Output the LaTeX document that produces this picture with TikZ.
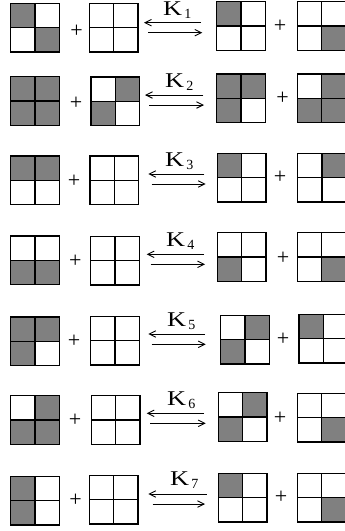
\documentclass[tikz,border=0pt]{standalone}
\usepackage{fontspec}
\setmainfont{Liberation Serif}
\usepackage{graphicx}
\usetikzlibrary{arrows.meta}
\definecolor{cellgray}{RGB}{128,128,128}
\tikzset{
  gridline/.style={draw=black, line width=1.2pt},
  plussign/.style={inner sep=0pt, font=\fontsize{22}{22}\selectfont},
  klabel/.style={anchor=base west, inner sep=0pt},
  eqarrow/.style={line width=0.9pt, -{Straight Barb[length=6.5pt,width=6.5pt,line width=0.9pt]}},
}
\newcommand\qgrid[6]{%
  \begin{scope}[shift={(#1,#2)}]
    \ifnum#3=1 \fill[cellgray] (0,0) rectangle (24.35,24.35);\fi
    \ifnum#4=1 \fill[cellgray] (24.35,0) rectangle (48.7,24.35);\fi
    \ifnum#5=1 \fill[cellgray] (0,24.35) rectangle (24.35,48.7);\fi
    \ifnum#6=1 \fill[cellgray] (24.35,24.35) rectangle (48.7,48.7);\fi
    \draw[gridline] (0,0) rectangle (48.7,48.7) (24.35,0) -- (24.35,48.7) (0,24.35) -- (48.7,24.35);
  \end{scope}}
\newcommand\klab[1]{{\fontsize{21}{21}\selectfont\scalebox{1.25}[1]{K}}\hspace{2.2pt}\raisebox{-3pt}{\fontsize{14}{14}\selectfont #1}}
\begin{document}
\begin{tikzpicture}[x=1pt,y=-1pt]
\useasboundingbox (0,0) rectangle (345,531);
\clip (0,0) rectangle (345,531);
% Row 1
\qgrid{10.7}{3.3}{1}{0}{0}{1}
\qgrid{89.3}{3.3}{0}{0}{0}{0}
\qgrid{216.7}{1.7}{1}{0}{0}{0}
\qgrid{297.3}{1.7}{0}{0}{0}{1}
\node[plussign] (p1a) at (76.7,31) {+};
\node[plussign] (p1b) at (280,26.7) {+};
\coordinate (u1s) at (201,22.7); \coordinate (u1e) at (144,22.7);
\coordinate (l1s) at (148,32.7); \coordinate (l1e) at (202.3,32.7);
\draw[eqarrow] (u1s) -- (u1e);
\draw[eqarrow] (l1s) -- (l1e);
\node[klabel] (k1) at (163,15) {\klab{1}};
% Row 2
\qgrid{10.7}{76.7}{1}{1}{1}{1}
\qgrid{91}{77}{0}{1}{1}{0}
\qgrid{216.7}{74}{1}{1}{1}{0}
\qgrid{297.3}{74}{0}{1}{1}{1}
\node[plussign] (p2a) at (76,103.3) {+};
\node[plussign] (p2b) at (282.7,98.3) {+};
\coordinate (u2s) at (203.3,95); \coordinate (u2e) at (145,95);
\coordinate (l2s) at (149.3,105); \coordinate (l2e) at (204,105);
\draw[eqarrow] (u2s) -- (u2e);
\draw[eqarrow] (l2s) -- (l2e);
\node[klabel] (k2) at (165,87) {\klab{2}};
% Row 3
\qgrid{10.7}{156}{1}{1}{0}{0}
\qgrid{90}{156}{0}{0}{0}{0}
\qgrid{217.3}{153.3}{1}{0}{0}{0}
\qgrid{297.7}{153.3}{0}{1}{0}{0}
\node[plussign] (p3a) at (74,181.7) {+};
\node[plussign] (p3b) at (280,177.7) {+};
\coordinate (u3s) at (204.3,174); \coordinate (u3e) at (148.3,174);
\coordinate (l3s) at (151.7,184); \coordinate (l3e) at (205.7,184);
\draw[eqarrow] (u3s) -- (u3e);
\draw[eqarrow] (l3s) -- (l3e);
\node[klabel] (k3) at (165,166) {\klab{3}};
% Row 4
\qgrid{10.7}{236}{0}{0}{1}{1}
\qgrid{90.7}{236.3}{0}{0}{0}{0}
\qgrid{217.3}{232.7}{0}{0}{1}{0}
\qgrid{297.3}{232.7}{0}{0}{0}{1}
\node[plussign] (p4a) at (75.3,261.7) {+};
\node[plussign] (p4b) at (283,258.3) {+};
\coordinate (u4s) at (204,254.3); \coordinate (u4e) at (146.7,254.3);
\coordinate (l4s) at (150.7,264.3); \coordinate (l4e) at (205,264.3);
\draw[eqarrow] (u4s) -- (u4e);
\draw[eqarrow] (l4s) -- (l4e);
\node[klabel] (k4) at (166,246.3) {\klab{4}};
% Row 5
\qgrid{10.7}{317}{1}{1}{1}{0}
\qgrid{90.7}{316.3}{0}{0}{0}{0}
\qgrid{220.7}{315.3}{0}{1}{1}{0}
\qgrid{299}{314.3}{1}{0}{0}{0}
\node[plussign] (p5a) at (74,341.7) {+};
\node[plussign] (p5b) at (283,339.7) {+};
\coordinate (u5s) at (205,334); \coordinate (u5e) at (148.3,334);
\coordinate (l5s) at (151.7,344.3); \coordinate (l5e) at (205.7,344.3);
\draw[eqarrow] (u5s) -- (u5e);
\draw[eqarrow] (l5s) -- (l5e);
\node[klabel] (k5) at (167,326) {\klab{5}};
% Row 6
\qgrid{10.7}{395.7}{0}{1}{1}{1}
\qgrid{91.3}{395.7}{0}{0}{0}{0}
\qgrid{218.3}{392.7}{0}{1}{1}{0}
\qgrid{297.3}{393.3}{0}{0}{0}{1}
\node[plussign] (p6a) at (75,420.7) {+};
\node[plussign] (p6b) at (280,418.3) {+};
\coordinate (u6s) at (204,413.3); \coordinate (u6e) at (146.7,413.3);
\coordinate (l6s) at (150,423.3); \coordinate (l6e) at (205.7,423.3);
\draw[eqarrow] (u6s) -- (u6e);
\draw[eqarrow] (l6s) -- (l6e);
\node[klabel] (k6) at (167,405.3) {\klab{6}};
% Row 7
\qgrid{10.7}{476.3}{1}{0}{1}{0}
\qgrid{89.3}{475.3}{0}{0}{0}{0}
\qgrid{218.3}{473.3}{1}{0}{0}{0}
\qgrid{297.3}{473.3}{0}{0}{0}{1}
\node[plussign] (p7a) at (75.7,500.5) {+};
\node[plussign] (p7b) at (281,497.7) {+};
\coordinate (u7s) at (206.7,494); \coordinate (u7e) at (148.3,494);
\coordinate (l7s) at (152.7,504); \coordinate (l7e) at (205,504);
\draw[eqarrow] (u7s) -- (u7e);
\draw[eqarrow] (l7s) -- (l7e);
\node[klabel] (k7) at (170,485) {\klab{7}};
\end{tikzpicture}
\end{document}
